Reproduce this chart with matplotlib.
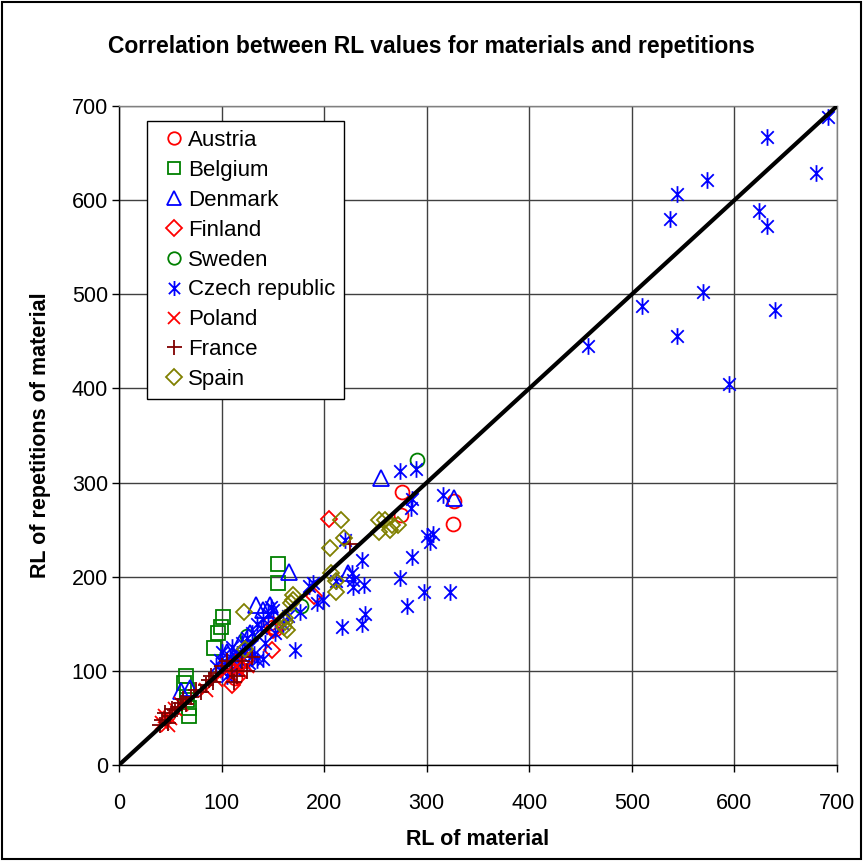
import matplotlib
matplotlib.use("Agg")
import matplotlib.pyplot as plt
from matplotlib.path import Path
from matplotlib.patches import Rectangle

plt.rcParams['font.family'] = ['Liberation Sans', 'DejaVu Sans']

# RL of material (x) vs RL of repetitions of material (y), per country
austria_x = [276, 275, 327, 326, 147, 150, 152, 113]
austria_y = [290, 266, 280, 256, 151, 147, 144, 92]

belgium_x = [155, 155, 101, 99, 97, 93, 65, 63, 66, 66, 68, 68]
belgium_y = [214, 193, 157, 147, 140, 124, 95, 87, 80, 69, 61, 52]

denmark_x = [255, 327, 166, 223, 134, 147, 60, 69, 105, 118, 128, 112, 140]
denmark_y = [305, 284, 205, 204, 170, 170, 79, 82, 120, 130, 140, 110, 165]

finland_x = [205, 149, 150, 110, 116, 190, 125]
finland_y = [261, 122, 143, 85, 93, 180, 112]

sweden_x = [291, 177, 125, 110]
sweden_y = [324, 169, 137, 108]

czech_x = [691, 632, 573, 680, 544, 537, 624, 632, 569, 510, 640, 544, 457, 595,
           274, 290, 316, 286, 285, 300, 303, 306, 297, 323, 286, 281, 274, 239,
           240, 237, 217, 227, 228, 228, 220, 237, 212, 185, 193, 199, 176, 189, 172,
           95, 98, 100, 104, 108, 110, 112, 115, 118, 120, 122, 125, 128, 130, 132,
           135, 138, 140, 142, 145, 148, 150, 152, 135, 127, 100, 105, 140, 160, 165]
czech_y = [688, 667, 621, 629, 607, 580, 588, 573, 502, 488, 483, 456, 445, 405,
           312, 314, 287, 283, 273, 243, 237, 245, 184, 184, 221, 169, 199, 191,
           160, 150, 147, 204, 196, 189, 239, 218, 195, 190, 172, 175, 163, 193, 122,
           105, 112, 120, 108, 115, 125, 102, 118, 110, 130, 120, 135, 125, 140, 118,
           150, 145, 155, 130, 160, 168, 165, 140, 112, 108, 100, 95, 113, 150, 158]

poland_x = [42, 45, 50, 55, 60, 85, 95, 105, 110, 115, 118, 120, 125, 48]
poland_y = [45, 52, 50, 60, 65, 80, 90, 100, 95, 105, 100, 110, 105, 42]

france_x = [40, 42, 45, 48, 50, 52, 55, 58, 60, 62, 65, 70, 75, 80, 85, 88, 90,
            92, 95, 100, 105, 110, 115, 120, 125, 130, 112, 225]
france_y = [42, 48, 55, 45, 52, 60, 58, 62, 66, 70, 65, 72, 80, 78, 85, 90, 95,
            88, 98, 105, 110, 100, 95, 110, 100, 115, 88, 235]

spain_x = [216, 219, 206, 207, 212, 212, 170, 170, 162, 162, 164, 253, 253,
           259, 266, 272, 264, 122, 123, 168, 161]
spain_y = [260, 241, 230, 204, 195, 184, 181, 175, 156, 152, 143, 260, 248,
           260, 255, 255, 250, 163, 123, 172, 147]

# asterisk marker: vertical stroke plus an X
star = Path([(0, -1), (0, 1), (-0.75, -0.75), (0.75, 0.75), (-0.75, 0.75), (0.75, -0.75)],
            [Path.MOVETO, Path.LINETO, Path.MOVETO, Path.LINETO, Path.MOVETO, Path.LINETO])

series = [
    ("Austria", austria_x, austria_y, 'o', '#FF0000', 10),
    ("Belgium", belgium_x, belgium_y, 's', '#008000', 10),
    ("Denmark", denmark_x, denmark_y, '^', '#0000FF', 11),
    ("Finland", finland_x, finland_y, 'D', '#FF0000', 8.5),
    ("Sweden", sweden_x, sweden_y, 'o', '#008000', 10),
    ("Czech republic", czech_x, czech_y, star, '#0000FF', 12),
    ("Poland", poland_x, poland_y, 'x', '#FF0000', 10),
    ("France", france_x, france_y, '+', '#800000', 12),
    ("Spain", spain_x, spain_y, 'D', '#808000', 8.5),
]

fig = plt.figure(figsize=(8.63, 8.61), dpi=100)
ax = fig.add_axes([119 / 863, 1 - 765 / 861, 718 / 863, 659 / 861])

for name, xs, ys, mk, col, ms in series:
    ax.plot(xs, ys, linestyle='none', marker=mk, markersize=ms,
            markerfacecolor='none', markeredgecolor=col, markeredgewidth=1.3,
            label=name, zorder=3)

ax.plot([0, 700], [0, 700], color='black', linewidth=3, zorder=4)

ax.set_xlim(0, 700)
ax.set_ylim(0, 700)
ax.set_xticks(range(0, 701, 100))
ax.set_yticks(range(0, 701, 100))
ax.grid(True, color='#404040', linewidth=1, zorder=0)
ax.set_axisbelow(True)
for s in ax.spines.values():
    s.set_color('#808080')
    s.set_linewidth(1)
ax.spines['left'].set_color('black')
ax.spines['bottom'].set_color('black')
ax.tick_params(direction='out', length=5, width=1, labelsize=15.5)
ax.tick_params(axis='x', pad=15)
ax.tick_params(axis='y', pad=3)

ax.set_xlabel("RL of material", fontsize=15.5, fontweight='bold', labelpad=11)
ax.set_ylabel("RL of repetitions of material", fontsize=15.5, fontweight='bold', labelpad=15)
fig.text(0.5, 1 - 47 / 861, "Correlation between RL values for materials and repetitions",
         ha='center', va='center', fontsize=16.5, fontweight='bold')

leg = ax.legend(loc='upper left', bbox_to_anchor=(0.039, 0.977), borderaxespad=0,
                fontsize=16, frameon=True, fancybox=False, framealpha=1,
                edgecolor='black', handlelength=1.6, handletextpad=-0.15,
                labelspacing=0.4, borderpad=0.4, markerscale=0.9)
leg.get_frame().set_linewidth(1)

fig.patches.append(Rectangle((0.002, 0.002), 0.996, 0.996, transform=fig.transFigure,
                             fill=False, edgecolor='black', linewidth=1.5))

fig.savefig("out.png", dpi=100)
